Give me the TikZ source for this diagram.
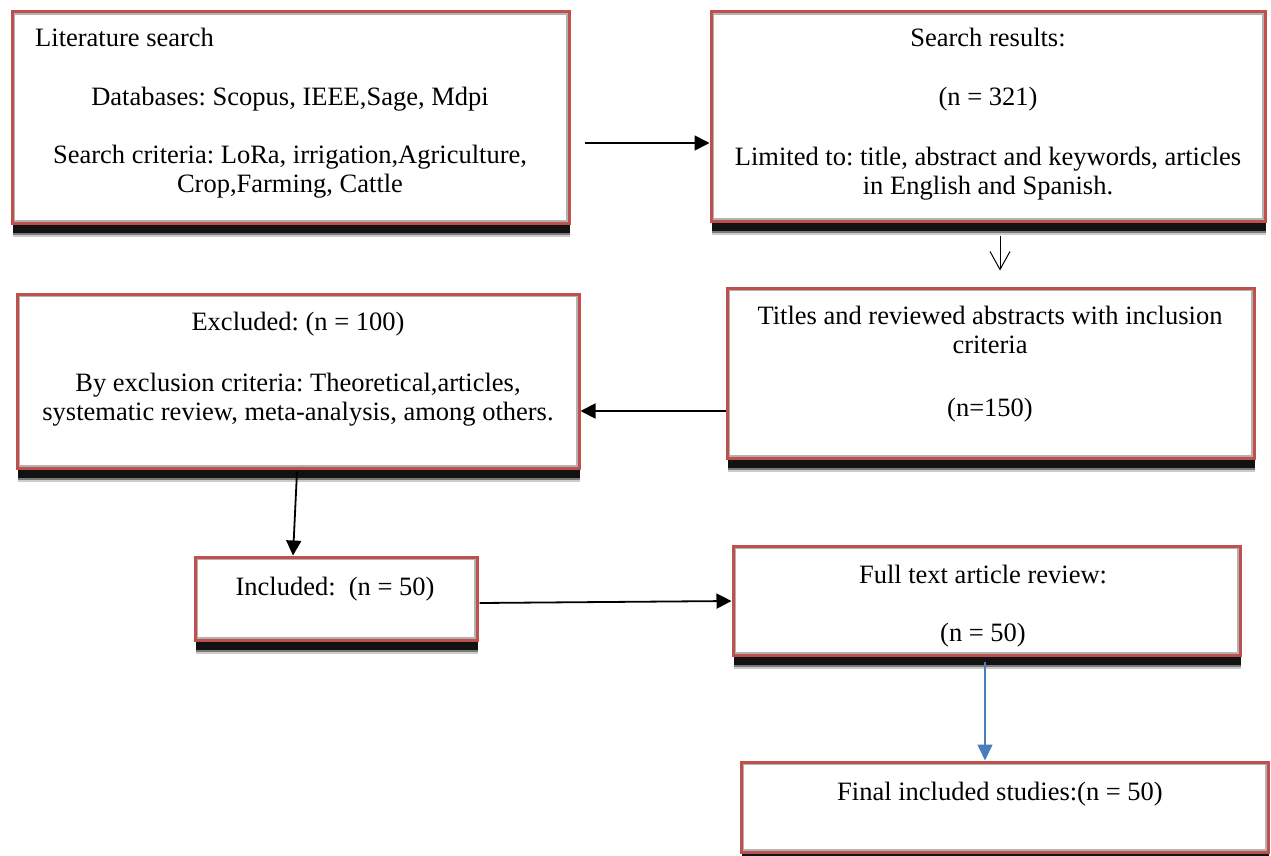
\documentclass[tikz,border=0pt]{standalone}
\usepackage{fontspec}
\setmainfont{Liberation Serif}
\frenchspacing
\usetikzlibrary{arrows.meta,shadows}
\definecolor{boxred}{RGB}{192,80,77}
\definecolor{arrblue}{RGB}{74,126,187}
\tikzset{
  flowbox/.style={draw=boxred, line width=3pt, fill=white, rectangle, inner sep=0pt,
    general shadow={shadow xshift=1pt, shadow yshift=-14pt, opacity=0.2, fill=black},
    general shadow={shadow xshift=1pt, shadow yshift=-12pt, opacity=0.4, fill=black},
    general shadow={shadow xshift=0.5pt, shadow yshift=-10pt, opacity=0.85, fill=black},
    path picture={\draw[black!30, line width=6pt] (path picture bounding box.south west) rectangle (path picture bounding box.north east);}},
  txt/.style={anchor=base, inner sep=0pt, font=\fontsize{26.5}{29}\selectfont, align=center},
  arr/.style={line width=1.8pt, -{Triangle[length=15pt,width=15pt]}},
  openarr/.style={line width=1pt, -{Straight Barb[length=18pt,width=20pt,line width=1pt]}},
  bluearr/.style={draw=arrblue, line width=1.5pt, -{Triangle[length=16pt,width=15pt]}, arrblue}
}
\begin{document}
\begin{tikzpicture}[x=1pt,y=-1pt]
\useasboundingbox (0,0) rectangle (1271,856);
% boxes
\node[flowbox, minimum width=557pt, minimum height=211pt] (b1) at (290.5,117.5) {};
\node[flowbox, minimum width=554pt, minimum height=209pt] (b2) at (988,116.5) {};
\node[flowbox, minimum width=527pt, minimum height=170pt] (b3) at (990.5,373) {};
\node[flowbox, minimum width=562pt, minimum height=174pt] (b4) at (298,381) {};
\node[flowbox, minimum width=282pt, minimum height=83pt] (b5) at (336,598.5) {};
\node[flowbox, minimum width=507pt, minimum height=109pt] (b6) at (986.5,600.5) {};
\node[flowbox, minimum width=527pt, minimum height=90pt] (b7) at (1004.5,807) {};
% texts
\node[txt, anchor=base west] (t1a) at (35,47) {Literature search};
\node[txt] (t1b) at (290,106) {Databases: Scopus, IEEE,Sage, Mdpi};
\node[txt] (t1c) at (290,163) {Search criteria: LoRa, irrigation,Agriculture,};
\node[txt] (t1d) at (290,192) {Crop,Farming, Cattle};
\node[txt] (t2a) at (988,47) {Search results:};
\node[txt] (t2b) at (988,106) {(n = 321)};
\node[txt] (t2c) at (988,165) {Limited to: title, abstract and keywords, articles};
\node[txt] (t2d) at (988,194) {in English and Spanish.};
\node[txt] (t3a) at (990,324) {Titles and reviewed abstracts with inclusion};
\node[txt] (t3b) at (990,353) {criteria};
\node[txt] (t3c) at (990,416) {(n=150)};
\node[txt] (t4a) at (298,330) {Excluded: (n = 100)};
\node[txt] (t4b) at (298,391) {By exclusion criteria: Theoretical,articles,};
\node[txt] (t4c) at (298,420) {systematic review, meta-analysis, among others.};
\node[txt] (t5) at (335,595) {Included:~ (n = 50)};
\node[txt] (t6a) at (983,583) {Full text article review:};
\node[txt] (t6b) at (983,641) {(n = 50)};
\node[txt] (t7) at (1000,800) {Final included studies:(n = 50)};
% connectors
\draw[arr] ([xshift=14pt,yshift=-25.5pt]b1.east) coordinate (s1) -- (s1 -| b2.west);
\draw[openarr] ([xshift=12pt,yshift=-13pt]b2.south) coordinate (s2) -- ([xshift=9.5pt,yshift=16pt]b3.north);
\draw[arr] ([yshift=-38pt]b3.west) coordinate (s3) -- (s3 -| b4.east);
\draw[arr] ([xshift=-1pt,yshift=-2pt]b4.south) -- ([xshift=-43pt]b5.north);
\draw[arr] ([xshift=1pt,yshift=-4.5pt]b5.east) -- ([yshift=-0.5pt]b6.west);
\draw[bluearr] ([xshift=-1.5pt,yshift=-5pt]b6.south) -- ([xshift=-19.5pt]b7.north);
\end{tikzpicture}
\end{document}
